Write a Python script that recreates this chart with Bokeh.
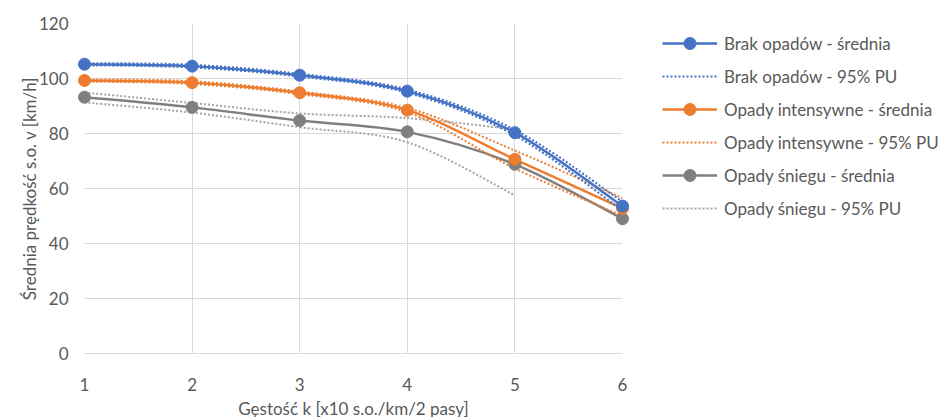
from bokeh.plotting import figure
from bokeh.models import Range1d, Legend, LegendItem, ColumnDataSource, FixedTicker
from bokeh.embed import file_html
from bokeh.resources import INLINE

x_vals = [1, 2, 3, 4, 5, 6]
x_ticks = [1, 2, 3, 4, 5, 6]
y_ticks = [0, 20, 40, 60, 80, 100, 120]

brak_mean = [105.2, 104.5, 101.2, 95.4, 80.3, 53.6]
brak_upper = [105.6, 105.0, 101.7, 96.0, 81.3, 55.2]
brak_lower = [104.8, 104.0, 100.7, 94.8, 79.3, 52.0]

intens_mean = [99.3, 98.5, 94.8, 88.5, 70.6, 52.8]
intens_upper = [99.7, 99.0, 95.3, 89.3, 73.8, 56.5]
intens_lower = [98.9, 98.0, 94.3, 87.7, 67.3, 50.0]

snieg_x = [1, 2, 3, 4, 5, 6]
snieg_mean = [93.2, 89.5, 84.7, 80.6, 68.8, 49.0]
snieg_pu_x = [1, 2, 3, 4, 5]
snieg_upper = [94.9, 91.1, 87.3, 85.6, 81.5]
snieg_lower = [91.3, 87.6, 82.3, 76.8, 57.5]

labels = [
    "Brak opadów - średnia",
    "Brak opadów - 95% PU",
    "Opady intensywne - średnia",
    "Opady intensywne - 95% PU",
    "Opady śniegu - średnia",
    "Opady śniegu - 95% PU",
]

BLUE = "#4472C4"
ORANGE = "#ED7D31"
GRAY = "#7F7F7F"
LGRAY = "#A5A5A5"
FONT = "Lato"
TXT = "#595959"
FS = "17px"


def smooth_src(xs, ys):
    """Catmull-Rom style Bezier segments (Excel 'smoothed line')."""
    n = len(xs)
    d = dict(x0=[], y0=[], x1=[], y1=[], cx0=[], cy0=[], cx1=[], cy1=[])
    for i in range(n - 1):
        im = max(i - 1, 0)
        i2 = min(i + 2, n - 1)
        d["x0"].append(xs[i]); d["y0"].append(ys[i])
        d["x1"].append(xs[i + 1]); d["y1"].append(ys[i + 1])
        d["cx0"].append(xs[i] + (xs[i + 1] - xs[im]) / 6.0)
        d["cy0"].append(ys[i] + (ys[i + 1] - ys[im]) / 6.0)
        d["cx1"].append(xs[i + 1] - (xs[i2] - xs[i]) / 6.0)
        d["cy1"].append(ys[i + 1] - (ys[i2] - ys[i]) / 6.0)
    return ColumnDataSource(d)


p = figure(frame_width=538, frame_height=330,
           x_range=Range1d(1, 6), y_range=Range1d(0, 120),
           output_backend="svg", toolbar_location=None,
           min_border_left=84, min_border_top=23, min_border_bottom=58,
           min_border_right=296)
p.outline_line_color = None
p.background_fill_color = "white"
p.border_fill_color = "white"

p.xaxis.ticker = FixedTicker(ticks=x_ticks)
p.yaxis.ticker = FixedTicker(ticks=y_ticks)
p.xgrid.ticker = FixedTicker(ticks=x_ticks)
p.ygrid.ticker = FixedTicker(ticks=y_ticks)
for g in (p.xgrid, p.ygrid):
    g.grid_line_color = "#D9D9D9"
    g.grid_line_width = 1

for ax in (p.xaxis, p.yaxis):
    ax.major_tick_line_color = None
    ax.minor_tick_line_color = None
    ax.major_label_text_font = FONT
    ax.major_label_text_font_size = FS
    ax.major_label_text_color = TXT
    ax.axis_label_text_font = FONT
    ax.axis_label_text_font_size = FS
    ax.axis_label_text_color = TXT
    ax.axis_label_text_font_style = "normal"

p.xaxis.axis_line_color = "#D9D9D9"
p.xaxis.major_label_standoff = 18
p.xaxis.axis_label = "Gęstość k [x10 s.o./km/2 pasy]"
p.xaxis.axis_label_standoff = 4
p.yaxis.axis_line_color = None
p.yaxis.major_label_standoff = 10
p.yaxis.axis_label = "Średnia prędkość s.o. v [km/h]"
p.yaxis.axis_label_standoff = -4

items = []

def add_series(xs, mean, pux, up, lo, col, pucol, lab_mean, lab_pu):
    r_up = p.bezier("x0", "y0", "x1", "y1", "cx0", "cy0", "cx1", "cy1",
                    source=smooth_src(pux, up), line_color=pucol,
                    line_width=2, line_dash="2 2")
    r_lo = p.bezier("x0", "y0", "x1", "y1", "cx0", "cy0", "cx1", "cy1",
                    source=smooth_src(pux, lo), line_color=pucol,
                    line_width=2, line_dash="2 2")
    r_m = p.bezier("x0", "y0", "x1", "y1", "cx0", "cy0", "cx1", "cy1",
                   source=smooth_src(xs, mean), line_color=col, line_width=2.5)
    r_s = p.scatter(xs, mean, size=12, fill_color=col, line_color=col,
                    level="overlay")
    items.append(LegendItem(label=lab_mean, renderers=[r_m, r_s]))
    items.append(LegendItem(label=lab_pu, renderers=[r_up]))

add_series(snieg_x, snieg_mean, snieg_pu_x, snieg_upper, snieg_lower,
           GRAY, LGRAY, labels[4], labels[5])
add_series(x_vals, intens_mean, x_vals, intens_upper, intens_lower,
           ORANGE, ORANGE, labels[2], labels[3])
add_series(x_vals, brak_mean, x_vals, brak_upper, brak_lower,
           BLUE, BLUE, labels[0], labels[1])

order = [4, 5, 2, 3, 0, 1]
legend = Legend(items=[items[i] for i in order], location=(40, 130))
legend.border_line_color = None
legend.background_fill_alpha = 0
legend.padding = 0
legend.margin = 0
legend.spacing = 3
legend.glyph_height = 30
legend.glyph_width = 55
legend.label_height = 20
legend.label_standoff = 7
legend.label_text_font = FONT
legend.label_text_font_size = FS
legend.label_text_color = TXT
p.add_layout(legend, "right")

open("out.html", "w").write(file_html(p, INLINE))
